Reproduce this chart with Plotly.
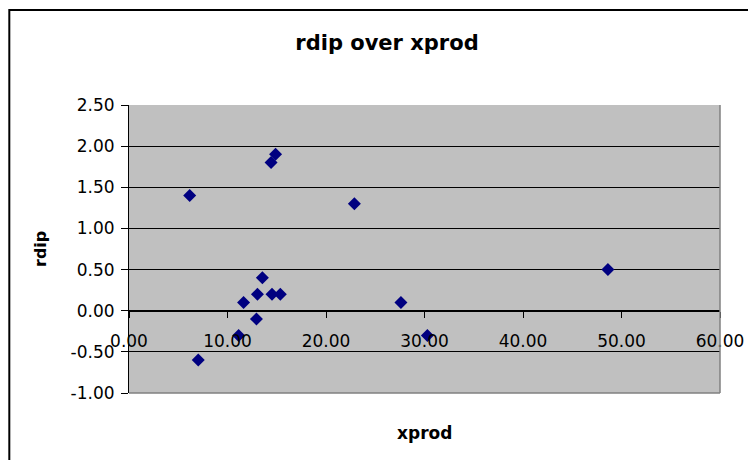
import plotly.graph_objects as go

# Data
xprod = [6.16, 7.03, 11.13, 11.63, 12.94, 13.04, 13.54, 14.42, 14.88, 14.52, 15.36, 22.88, 27.61, 30.29, 48.62]
rdip = [1.40, -0.60, -0.30, 0.10, -0.10, 0.20, 0.40, 1.80, 1.90, 0.20, 0.20, 1.30, 0.10, -0.30, 0.50]

title_text = "rdip over xprod"
x_title = "xprod"
y_title = "rdip"

x_tick_values = [0, 10, 20, 30, 40, 50, 60]
x_tick_labels = ["0.00", "10.00", "20.00", "30.00", "40.00", "50.00", "60.00"]
y_tick_values = [-1.0, -0.5, 0.0, 0.5, 1.0, 1.5, 2.0, 2.5]
y_tick_labels = ["-1.00", "-0.50", "0.00", "0.50", "1.00", "1.50", "2.00", "2.50"]

x_range = [0, 60]
y_range = [-1.0, 2.5]

FONT = "DejaVu Sans"

W, H = 748, 452  # page body has an 8px margin
ML, MR, MT, MB = 121, 32, 97, 67
PW, PH = W - ML - MR, H - MT - MB

fig = go.Figure()
fig.add_trace(go.Scatter(
    x=xprod, y=rdip, mode="markers",
    marker=dict(symbol="diamond", size=10, color="#000080", line=dict(width=0)),
    showlegend=False, cliponaxis=False,
))

# position of the x axis where y = 0
x_axis_pos = (0 - y_range[0]) / (y_range[1] - y_range[0])

fig.update_layout(
    width=W, height=H,
    margin=dict(l=ML, r=MR, t=MT, b=MB),
    paper_bgcolor="white",
    plot_bgcolor="#C0C0C0",
    font=dict(family=FONT, size=17, color="black"),
    title=dict(text="<b>" + title_text + "</b>", x=379 / W, xref="container", xanchor="center",
               y=1 - 35 / H, yref="container", yanchor="middle",
               font=dict(family=FONT, size=21, color="black")),
    xaxis=dict(range=x_range, tickmode="array", tickvals=x_tick_values, ticktext=x_tick_labels,
               anchor="free", position=x_axis_pos,
               showgrid=False, zeroline=False,
               showline=True, linecolor="black", linewidth=1,
               ticks="outside", ticklen=6, tickcolor="black",
               ticklabelstandoff=9,
               tickfont=dict(family=FONT, size=17, color="black")),
    yaxis=dict(range=y_range, tickmode="array", tickvals=y_tick_values, ticktext=y_tick_labels,
               showgrid=True, gridcolor="black", gridwidth=1, zeroline=False,
               showline=True, linecolor="black", linewidth=1,
               ticks="outside", ticklen=7, tickcolor="black",
               ticklabelstandoff=3,
               tickfont=dict(family=FONT, size=17, color="black")),
    annotations=[
        dict(text="<b>" + x_title + "</b>", xref="paper", yref="paper",
             x=0.5, y=-0.139, xanchor="center", yanchor="middle", showarrow=False,
             font=dict(family=FONT, size=17, color="black")),
        dict(text="<b>" + y_title + "</b>", xref="paper", yref="paper",
             x=-0.1506, y=0.5, xanchor="center", yanchor="middle", showarrow=False,
             textangle=-90, font=dict(family=FONT, size=16, color="black")),
    ],
    shapes=[
        # plot-area border (right and bottom, gray)
        dict(type="line", xref="paper", yref="paper", x0=1, x1=1, y0=0, y1=1,
             line=dict(color="#808080", width=1.5)),
        dict(type="line", xref="paper", yref="paper", x0=0, x1=1, y0=0, y1=0,
             line=dict(color="#808080", width=1.5)),
        # chart-area outer border (continues past the window at right and bottom)
        dict(type="rect", xref="paper", yref="paper",
             x0=(0.5 - ML) / PW, x1=1.2, y0=-0.5, y1=(PH + MT - 2) / PH,
             line=dict(color="black", width=2), fillcolor="rgba(0,0,0,0)"),
    ],
)

fig.write_html("out.html")
